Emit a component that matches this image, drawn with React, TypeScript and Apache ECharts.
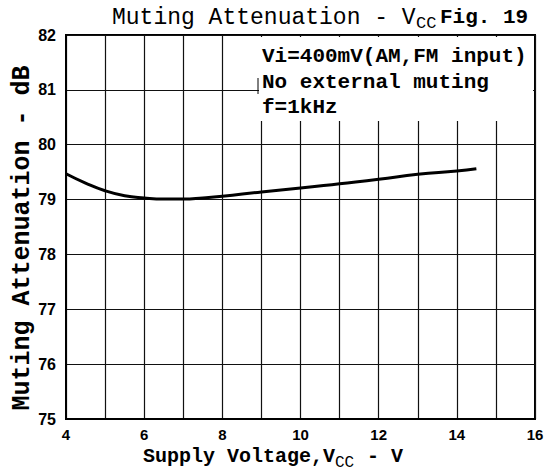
import React, { useEffect, useRef } from "react";
import * as echarts from "echarts";

const xValues = [4, 4.5, 5, 5.5, 6, 6.5, 7, 7.5, 8, 9, 10, 11, 12, 13, 14, 14.5];
const yValues = [79.47, 79.3, 79.16, 79.07, 79.03, 79.01, 79.01, 79.03, 79.06, 79.14, 79.21, 79.29, 79.37, 79.46, 79.52, 79.56];
const xTickLabels = ["4", "6", "8", "10", "12", "14", "16"];
const yTickLabels = ["75", "76", "77", "78", "79", "80", "81", "82"];
const noteLines = ["Vi=400mV(AM,FM input)", "No external muting", "f=1kHz"];

const MONO = "'Liberation Mono', 'DejaVu Sans Mono', monospace";
const SANS = "'Liberation Sans', 'DejaVu Sans', sans-serif";

export default function App() {
  const ref = useRef<HTMLDivElement>(null);
  useEffect(() => {
    if (!ref.current) return;
    const chart = echarts.init(ref.current, undefined, { renderer: "svg" });
    const data = xValues.map((x, i) => [x, yValues[i]]);
    chart.setOption({
      animation: false,
      backgroundColor: "#fff",
      grid: { left: 66, right: 14, top: 35, bottom: 55, show: true, borderColor: "#000", borderWidth: 2, backgroundColor: "transparent" },
      xAxis: {
        type: "value", min: 4, max: 16, interval: 1,
        axisLine: { show: true, lineStyle: { color: "#000", width: 2 } },
        axisTick: { show: false },
        splitLine: { show: true, lineStyle: { color: "#111", width: 1.2 } },
        axisLabel: {
          margin: 8, color: "#000", fontFamily: SANS, fontWeight: "bold", fontSize: 15,
          formatter: (v: number) => (xTickLabels.includes(String(v)) ? String(v) : ""),
        },
      },
      yAxis: {
        type: "value", min: 75, max: 82, interval: 1,
        axisLine: { show: true, lineStyle: { color: "#000", width: 2 } },
        axisTick: { show: false },
        splitLine: { show: true, lineStyle: { color: "#111", width: 1.2 } },
        axisLabel: {
          margin: 10, color: "#000", fontFamily: SANS, fontWeight: "bold", fontSize: 16,
          formatter: (v: number) => (yTickLabels.includes(String(v)) ? String(v) : ""),
        },
      },
      series: [
        {
          type: "line", data, smooth: true, showSymbol: false,
          lineStyle: { color: "#000", width: 3 },
        },
      ],
      graphic: [
        { type: "rect", z: 100, shape: { x: 259, y: 37, width: 274, height: 84 }, style: { fill: "#fff" } },
        { type: "line", z: 101, shape: { x1: 258, y1: 78, x2: 258, y2: 94 }, style: { stroke: "#000", lineWidth: 1 } },
        ...noteLines.map((t, i) => ({
          type: "text", z: 101, x: 262, y: [56, 82, 107][i],
          style: { text: t, font: `bold 21px ${MONO}`, fill: "#000", verticalAlign: "middle", textAlign: "left" },
        })),
        { type: "text", z: 101, x: 112, y: 18, style: { text: "Muting Attenuation - V", font: `23px ${MONO}`, fill: "#000", verticalAlign: "middle" } },
        { type: "text", z: 101, x: 416, y: 23, style: { text: "CC", font: `17px ${MONO}`, fill: "#000", verticalAlign: "middle" } },
        { type: "text", z: 101, x: 440, y: 17, style: { text: "Fig. 19", font: `bold 21px ${MONO}`, fill: "#000", verticalAlign: "middle" } },
        { type: "text", z: 101, x: 143, y: 456, style: { text: "Supply Voltage,V", font: `bold 20px ${MONO}`, fill: "#000", verticalAlign: "middle" } },
        { type: "text", z: 101, x: 335, y: 463, style: { text: "CC", font: `16px ${MONO}`, fill: "#000", verticalAlign: "middle" } },
        { type: "text", z: 101, x: 355, y: 456, style: { text: " - V", font: `bold 20px ${MONO}`, fill: "#000", verticalAlign: "middle" } },
        {
          type: "text", z: 101, x: 22, y: 238, rotation: Math.PI / 2,
          style: { text: "Muting Attenuation - dB", font: `bold 25px ${MONO}`, fill: "#000", verticalAlign: "middle", textAlign: "center" },
        },
      ],
    });
    return () => chart.dispose();
  }, []);
  return <div ref={ref} style={{ width: 549, height: 474, position: "absolute", left: 0, top: 0 }} />;
}
